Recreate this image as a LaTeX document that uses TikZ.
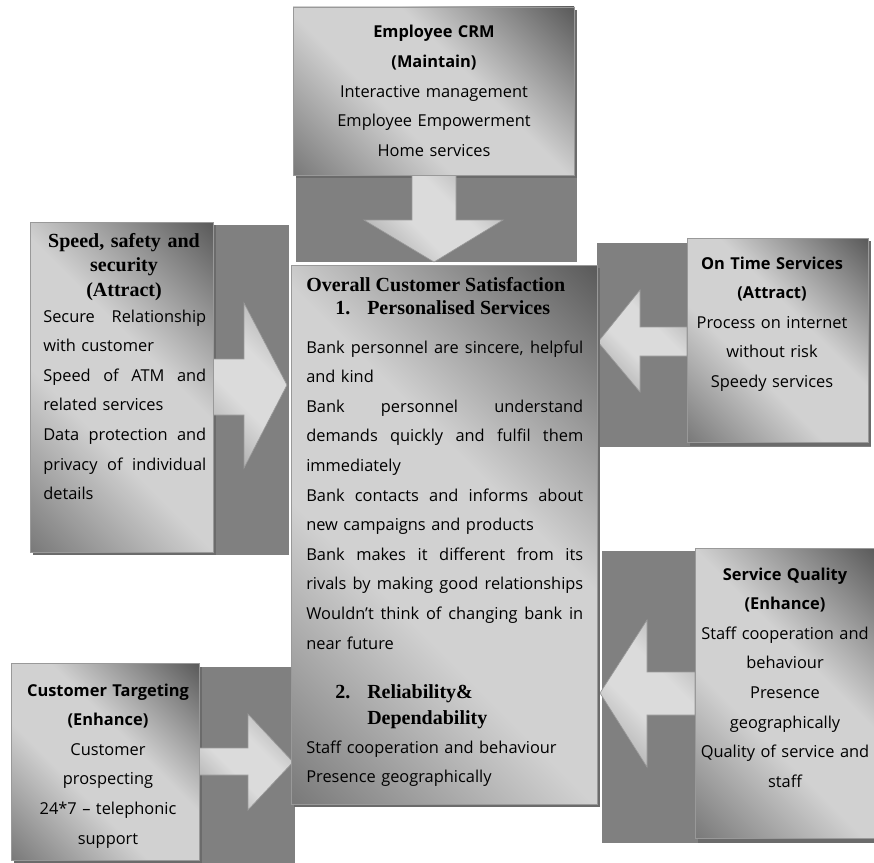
\documentclass[tikz,border=0pt]{standalone}
\usepackage{fontspec}
\setmainfont{Open Sans}
\newfontfamily\titleserif{Liberation Serif}

\definecolor{backgray}{gray}{0.50}
\definecolor{shadowgray}{gray}{0.42}
\definecolor{paneldark}{gray}{0.36}
\definecolor{panelmid}{gray}{0.48}
\definecolor{panellight}{gray}{0.82}
\definecolor{paneledge}{gray}{0.60}
\definecolor{arrowdark}{gray}{0.64}
\definecolor{arrowlight}{gray}{0.86}

% заливки
\pgfdeclarehorizontalshading{panelfade}{100bp}{color(0bp)=(panelmid); color(15bp)=(panelmid); color(40bp)=(panellight); color(58bp)=(panellight); color(85bp)=(paneldark); color(100bp)=(paneldark)}
\pgfdeclarehorizontalshading{arrowfade}{100bp}{color(0bp)=(arrowdark); color(18bp)=(arrowdark); color(42bp)=(arrowlight); color(60bp)=(arrowlight); color(85bp)=(arrowdark); color(100bp)=(arrowdark)}

% строка по ширине
\newcommand\jl[1]{\makebox[\hsize][s]{\spaceskip=0.3em plus 1fil\relax #1}}

\tikzset{
	back/.style={fill=backgray},
	boxshadow/.style={fill=shadowgray},
	panel/.style={shading=panelfade, shading angle=45, draw=paneledge, line width=0.5pt},
	pointer/.style={shading=arrowfade, shading angle=45, draw=paneledge, line width=0.5pt},
	body/.style={inner sep=0pt, font=\fontsize{12.3}{22.2}\selectfont},
	callout/.style={body, anchor=base, align=center},
	serifhead/.style={inner sep=0pt, font=\titleserif\bfseries\fontsize{15}{18.4}\selectfont}
}

\begin{document}
\begin{tikzpicture}[x=0.75pt, y=-0.75pt]
	\useasboundingbox ( 0, 0 ) rectangle ( 874, 863 );

	% Employee CRM
	\fill [back] ( 296, 10 ) rectangle ( 577, 262 );
	\fill [boxshadow] ( 296, 10 ) rectangle ( 577, 178 );
	\shadedraw [pointer] ( 412, 175 ) -- ( 412, 220 ) -- ( 364, 220 ) -- ( 434, 262 ) -- ( 503, 220 ) -- ( 456, 220 ) -- ( 456, 175 ) -- cycle;
	\shadedraw [panel] ( 293, 7 ) rectangle ( 574, 175 );

	% Speed, safety and security
	\fill [back] ( 33, 225 ) rectangle ( 289, 555 );
	\fill [boxshadow] ( 33, 225 ) rectangle ( 216, 555 );
	\shadedraw [pointer] ( 213, 359 ) -- ( 244, 359 ) -- ( 244, 303 ) -- ( 287, 385 ) -- ( 244, 468 ) -- ( 244, 415 ) -- ( 213, 415 ) -- cycle;
	\shadedraw [panel] ( 30, 222 ) rectangle ( 213, 552 );

	% On Time Services
	\fill [back] ( 597, 243 ) rectangle ( 871, 447 );
	\fill [boxshadow] ( 690, 241 ) rectangle ( 871, 446 );
	\shadedraw [pointer] ( 687, 327 ) -- ( 640, 327 ) -- ( 640, 290 ) -- ( 598, 342 ) -- ( 640, 392 ) -- ( 640, 356 ) -- ( 687, 356 ) -- cycle;
	\shadedraw [panel] ( 687, 238 ) rectangle ( 868, 442 );

	% Service Quality
	\fill [back] ( 602, 551 ) rectangle ( 874, 843 );
	\fill [boxshadow] ( 698, 551 ) rectangle ( 874, 843 );
	\shadedraw [pointer] ( 695, 672 ) -- ( 647, 672 ) -- ( 647, 620 ) -- ( 600, 693 ) -- ( 647, 767 ) -- ( 647, 715 ) -- ( 695, 715 ) -- cycle;
	\shadedraw [panel] ( 695, 548 ) rectangle ( 876, 838 );

	% Customer Targeting
	\fill [back] ( 14, 667 ) rectangle ( 295, 863 );
	\fill [boxshadow] ( 14, 667 ) rectangle ( 202, 863 );
	\shadedraw [pointer] ( 199, 748 ) -- ( 248, 748 ) -- ( 248, 714 ) -- ( 293, 762 ) -- ( 248, 810 ) -- ( 248, 775 ) -- ( 199, 775 ) -- cycle;
	\shadedraw [panel] ( 11, 663 ) rectangle ( 199, 860 );

	% Overall Customer Satisfaction
	\fill [boxshadow] ( 294, 268 ) rectangle ( 600, 807 );
	\shadedraw [panel] ( 291, 265 ) rectangle ( 597, 804 );

	% тексты
	\node (crm-text) [callout, text width=200pt] at ( 434, 38 ) {{\bfseries Employee CRM}\\{\bfseries (Maintain)}\\Interactive management\\Employee Empowerment\\Home services};

	\node (sss-title) [serifhead, anchor=base, align=center, text width=124pt] at ( 124, 247 ) {Speed, safety and\\security\\(Attract)};
	\node (sss-text) [body, anchor=base west, align=left, text width=122.25pt] at ( 43, 322 ) {\jl{Secure Relationship}\\with customer\\\jl{Speed of ATM and}\\related services\\\jl{Data protection and}\\\jl{privacy of individual}\\details};

	\node (ots-text) [callout, text width=130pt] at ( 772, 269 ) {{\bfseries On Time Services}\\{\bfseries (Attract)}\\Process on internet\\without risk\\Speedy services};

	\node (sat-title) [serifhead, anchor=base west] at ( 306, 291 ) {Overall Customer Satisfaction};
	\node (sat-num1) [serifhead, anchor=base west] at ( 335, 314 ) {1.};
	\node (sat-head1) [serifhead, anchor=base west] at ( 367, 314 ) {Personalised Services};
	\node (sat-text1) [body, anchor=base west, align=left, text width=207.75pt] at ( 306, 353 ) {\jl{Bank personnel are sincere, helpful}\\and kind\\\jl{Bank personnel understand}\\\jl{demands quickly and fulfil them}\\immediately\\\jl{Bank contacts and informs about}\\new campaigns and products\\\jl{Bank makes it different from its}\\\jl{rivals by making good relationships}\\\jl{Wouldn't think of changing bank in}\\near future};
	\node (sat-num2) [serifhead, anchor=base west] at ( 335, 698 ) {2.};
	\node (sat-head2) [serifhead, anchor=base west, align=left, text width=160pt, font=\titleserif\bfseries\fontsize{15}{19.5}\selectfont] at ( 367, 698 ) {Reliability\&\\Dependability};
	\node (sat-text2) [body, anchor=base west, align=left, text width=207.75pt] at ( 306, 753 ) {Staff cooperation and behaviour\\Presence geographically};

	\node (sq-text) [callout, text width=130pt] at ( 785, 580 ) {{\bfseries Service Quality}\\{\bfseries (Enhance)}\\Staff cooperation and\\behaviour\\Presence\\geographically\\Quality of service and\\staff};

	\node (ct-text) [callout, text width=135pt] at ( 108, 696 ) {{\bfseries Customer Targeting}\\{\bfseries (Enhance)}\\Customer\\prospecting\\24*7 -- telephonic\\support};
\end{tikzpicture}
\end{document}
